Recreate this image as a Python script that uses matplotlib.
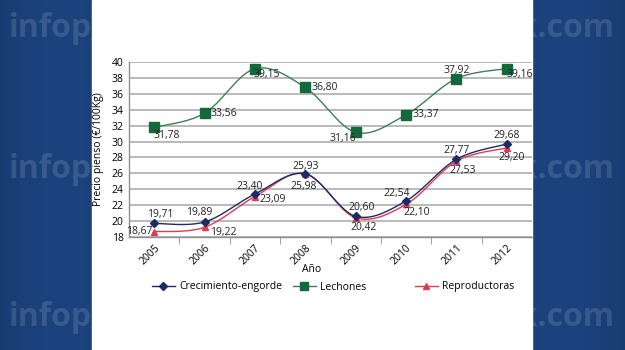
import numpy as np
import matplotlib
matplotlib.use("Agg")
import matplotlib.pyplot as plt
from matplotlib.lines import Line2D
from matplotlib.patches import Rectangle

plt.rcParams['font.family'] = ['Open Sans', 'DejaVu Sans']

#--------------Data------------------------------------
years = ['2005', '2006', '2007', '2008', '2009', '2010', '2011', '2012']
crecimiento = [19.71, 19.89, 23.40, 25.93, 20.60, 22.54, 27.77, 29.68]
lechones = [31.78, 33.56, 39.15, 36.80, 31.16, 33.37, 37.92, 39.16]
reproductoras = [18.67, 19.22, 23.09, 25.98, 20.42, 22.10, 27.53, 29.20]

#label offsets in pixels (dx, dy, ha)
off_crec = [(6, 9, 'center'), (-5, 9, 'center'), (-5, 8, 'center'), (0, 7, 'center'),
            (6, 9, 'center'), (-9, 7, 'center'), (0, 9, 'center'), (0, 9, 'center')]
off_lech = [(13, -8, 'center'), (6, 0, 'left'), (12, -6, 'center'), (6, 0, 'left'),
            (-13, -6, 'center'), (6, 0, 'left'), (0, 8, 'center'), (13, -6, 'center')]
off_repr = [(-2, 0, 'right'), (5, -5, 'left'), (4, -3, 'left'), (-2, -13, 'center'),
            (8, -10, 'center'), (11, -8, 'center'), (6, -9, 'center'), (5, -10, 'center')]


def smooth(xs, ys, n=30):
    # Bezier smoothing through every point (spreadsheet style)
    xs = np.asarray(xs, float)
    ys = np.asarray(ys, float)
    px = np.concatenate([[xs[0]], xs, [xs[-1]]])
    py = np.concatenate([[ys[0]], ys, [ys[-1]]])
    outx, outy = [], []
    t = np.linspace(0, 1, n)
    for i in range(1, len(px) - 2):
        p0 = np.array([px[i], py[i]])
        p3 = np.array([px[i + 1], py[i + 1]])
        p1 = p0 + (np.array([px[i + 1], py[i + 1]]) - np.array([px[i - 1], py[i - 1]])) / 6
        p2 = p3 - (np.array([px[i + 2], py[i + 2]]) - np.array([px[i], py[i]])) / 6
        b = ((1 - t) ** 3)[:, None] * p0 + (3 * (1 - t) ** 2 * t)[:, None] * p1 \
            + (3 * (1 - t) * t ** 2)[:, None] * p2 + (t ** 3)[:, None] * p3
        outx.extend(b[:, 0])
        outy.extend(b[:, 1])
    return outx, outy


fig = plt.figure(figsize=(6.25, 3.5), dpi=100)

#--------------Background-------------------------------
bg = fig.add_axes([0, 0, 1, 1])
bg.set_xlim(0, 625)
bg.set_ylim(350, 0)
bg.axis('off')
gx = np.linspace(0, 1, 300)
w = np.exp(-((gx - 0.1) / 0.2) ** 2) + np.exp(-((gx - 0.9) / 0.2) ** 2)
w = np.clip(w, 0, 1)
c_dark = np.array([0x0c, 0x20, 0x48]) / 255
c_light = np.array([0x1c, 0x43, 0x7e]) / 255
img = c_dark[None, :] * (1 - w[:, None]) + c_light[None, :] * w[:, None]
img = np.tile(img[None, :, :], (10, 1, 1))
bg.imshow(img, extent=[0, 625, 350, 0], aspect='auto')
for yy in [37, 178, 326]:
    bg.text(9, yy, 'infop', fontsize=23, color='white', alpha=0.13,
            va='baseline', ha='left', fontweight='bold')
    bg.text(615, yy, 'rk.com', fontsize=23, color='white', alpha=0.13,
            va='baseline', ha='right', fontweight='bold')
bg.add_patch(Rectangle((92, 0), 440, 350, color='white', zorder=5))

#--------------Chart------------------------------------
ax = fig.add_axes([129 / 625, 1 - 237 / 350, 403 / 625, 175 / 350])
ax.set_facecolor('none')
x = np.arange(len(years))

c_crec = '#1d2a66'
c_lech_line = '#3f7f57'
c_lech_mk = '#13693a'
c_repr = '#e23a50'

sx, sy = smooth(x, lechones)
ax.plot(sx, sy, color=c_lech_line, lw=1.0, zorder=3)
ax.plot(x, lechones, ls='none', marker='s', ms=7, color=c_lech_mk, zorder=4)

sx, sy = smooth(x, reproductoras)
ax.plot(sx, sy, color=c_repr, lw=1.0, zorder=3)
ax.plot(x, reproductoras, ls='none', marker='^', ms=4, color=c_repr, zorder=4)

sx, sy = smooth(x, crecimiento)
ax.plot(sx, sy, color=c_crec, lw=1.0, zorder=3)
ax.plot(x, crecimiento, ls='none', marker='D', ms=4, color=c_crec, zorder=5)

for vals, offs in [(crecimiento, off_crec), (lechones, off_lech), (reproductoras, off_repr)]:
    for i, v in enumerate(vals):
        dx, dy, ha = offs[i]
        ax.annotate(f'{v:.2f}'.replace('.', ','), (x[i], v), xytext=(dx, dy),
                    textcoords='offset pixels', ha=ha, va='center',
                    fontsize=7.5, color='#222222', zorder=6)

ax.set_xlim(-0.5, 7.5)
ax.set_ylim(18, 40)
ax.set_yticks(range(18, 41, 2))
ax.grid(axis='y', color='#b4b4b4', lw=1.3, zorder=0)
ax.set_xticks(x)
ax.set_xticklabels(years, rotation=45, ha='right', va='top', rotation_mode='anchor', fontsize=7.5)
ax.tick_params(axis='x', length=0, pad=4)
ax.set_xticks(np.arange(0.5, 7, 1), minor=True)
ax.tick_params(axis='x', which='minor', length=5, color='#909090', direction='out')
ax.tick_params(axis='y', length=0, labelsize=7.5, pad=4)
for s in ['top', 'right']:
    ax.spines[s].set_visible(False)
for s in ['left', 'bottom']:
    ax.spines[s].set_color('#909090')
    ax.spines[s].set_linewidth(1.0)

ax.text((312 - 129) / 403, -33 / 175, 'Año', transform=ax.transAxes,
        ha='center', va='center', fontsize=7.5)
ax.set_ylabel('Precio pienso (€/100Kg)', fontsize=7.5, labelpad=5)

#--------------Legend-----------------------------------
entries = [('Crecimiento-engorde', c_crec, c_crec, 'D', 4, 152),
           ('Lechones', c_lech_line, c_lech_mk, 's', 6, 293),
           ('Reproductoras', c_repr, c_repr, '^', 4, 415)]
for lab, lc, mc, mk, ms, xp in entries:
    h = Line2D([], [], color=lc, marker=mk, ms=ms, mfc=mc, mec=mc, lw=1.0)
    fig.legend([h], [lab], loc='center left', bbox_to_anchor=(xp / 625, 1 - 287 / 350),
               frameon=False, fontsize=7.5, handlelength=2.2, handletextpad=0.4,
               borderpad=0, borderaxespad=0)

fig.savefig('out.png', dpi=100)
